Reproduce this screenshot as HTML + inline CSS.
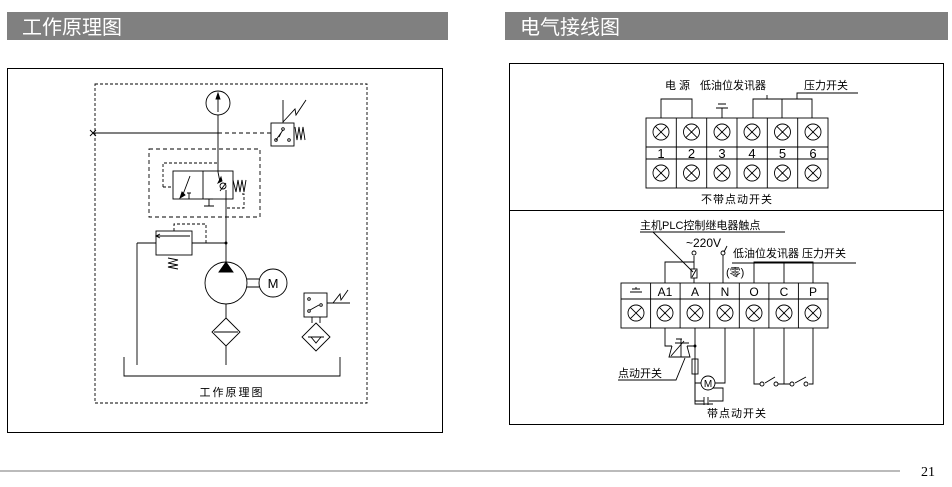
<!DOCTYPE html>
<html><head><meta charset="utf-8"><style>
body{margin:0;width:952px;height:487px;background:#fff;overflow:hidden;font-family:"Liberation Sans","Noto Sans CJK SC",sans-serif}
svg{position:absolute;left:0;top:0}
text{font-family:"Liberation Sans","Noto Sans CJK SC",sans-serif}
</style></head><body>
<svg width="952" height="487" viewBox="0 0 952 487" fill="none" stroke="#000" stroke-width="1">
<rect x="7" y="12" width="441" height="28" fill="#808080" stroke="none"/>
<rect x="505" y="12" width="443" height="28" fill="#808080" stroke="none"/>
<text x="22" y="34" font-size="20" fill="#fff" stroke="none">工作原理图</text>
<text x="520" y="34" font-size="20" fill="#fff" stroke="none">电气接线图</text>
<rect x="7.5" y="68.5" width="435" height="364"/>
<rect x="509.5" y="63.5" width="434" height="361"/>
<line x1="509" y1="210.5" x2="944" y2="210.5"/>
<line x1="0" y1="471" x2="900" y2="471" stroke="#bbb" stroke-width="2"/>
<text x="921" y="476" font-size="14" fill="#000" stroke="none" style="font-family:'Liberation Serif',serif">21</text>

<g stroke-width="0.9">
<rect x="95" y="84" width="272" height="319" stroke-dasharray="3,2"/>
<circle cx="218" cy="103" r="12"/>
<line x1="218" y1="96" x2="218" y2="112"/><path d="M216 99 L218 93 L220 99Z" fill="#000"/>
<line x1="218" y1="115" x2="218" y2="172"/>
<line x1="93" y1="133" x2="218" y2="133"/>
<path d="M90 130 L96 136 M96 130 L90 136"/>
<line x1="218" y1="133" x2="271" y2="133" stroke-dasharray="4,3"/>
<rect x="271" y="123" width="23" height="23"/>
<path d="M276 140 L283 130 M279 137 L281 133"/><circle cx="276" cy="140" r="1.3"/><circle cx="289" cy="140" r="1.3"/><circle cx="283" cy="129" r="1.3"/>
<path d="M295 127 L297 140 L299 127 L301 140 L303 127 L305 140"/>
<path d="M283 100 L283 123 M283 122 L295 109 L296 115 L306 100"/>
<rect x="149" y="149" width="111" height="68" stroke-dasharray="4,3"/>
<rect x="173" y="171" width="60" height="28"/>
<line x1="203" y1="171" x2="203" y2="199"/>
<path d="M163 187 L163 163 L218 163" stroke-dasharray="3,2"/>
<path d="M163 187 L173 187" stroke-dasharray="3,2"/>
<path d="M182 197 L190 176"/><path d="M180 198 L182 192 L185 195Z" fill="#000"/>
<path d="M187 193 L191 193 M189 193 L189 199"/>
<path d="M205 199 L213 199 M209 199 L209 206 M204 206 L214 206"/>
<path d="M218 172 L220 182"/><path d="M218 183 L222 181 L221 177Z" fill="#000"/>
<circle cx="223" cy="186" r="3"/><path d="M220 191 L226 183 M226 190 L226 199"/>
<path d="M233 180 L236 192 L238 180 L240 192 L242 180 L244 192 L246 180"/>
<path d="M242 194 L244 194 L244 208 L226 208" stroke-dasharray="3,2"/>
<line x1="226" y1="199" x2="226" y2="262"/>
<rect x="156" y="231" width="36" height="24"/>
<line x1="156" y1="236" x2="190" y2="236"/><path d="M160 234 L156 236 L160 238"/>
<path d="M174 231 L174 224 L206 224 L206 243" stroke-dasharray="3,2"/>
<line x1="137" y1="243" x2="156" y2="243"/><line x1="192" y1="243" x2="226" y2="243"/>
<circle cx="226" cy="243" r="1" fill="#000"/>
<path d="M168 258 L178 260 L168 263 L178 265 L168 267 L178 269"/>
<line x1="137" y1="243" x2="137" y2="365"/>
<circle cx="226" cy="283" r="21"/>
<path d="M219 272 L226 262 L233 272Z" fill="#000"/>
<path d="M247 279 L259 279 M247 287 L259 287"/>
<circle cx="273" cy="283" r="14"/>
<text x="273" y="288" font-size="13" fill="#000" stroke="none" text-anchor="middle">M</text>
<line x1="226" y1="304" x2="226" y2="318"/>
<path d="M226 318 L240 332 L226 346 L212 332Z M214 332 L238 332" />
<line x1="226" y1="346" x2="226" y2="365"/>
<rect x="304" y="293" width="23" height="24"/>
<circle cx="309" cy="299" r="1.3"/><circle cx="309" cy="311" r="1.3"/><circle cx="321" cy="305" r="1.3"/>
<path d="M310 310 L319 305"/>
<path d="M327 303 L350 303 M333 303 L340 294 L341 300 L348 290"/>
<path d="M312 317 L312 323 M320 317 L320 323"/>
<path d="M316 323 L330 337 L316 351 L302 337Z M308 337 L324 337 M311 337 L316 343 L321 337"/>
<path d="M124 357 L124 376 L340 376 L340 357"/>
</g>
<text x="232" y="396" font-size="11" fill="#000" stroke="none" text-anchor="middle" letter-spacing="2">工作原理图</text>

<g stroke-width="0.9">
<rect x="646" y="118" width="182" height="70"/>
<line x1="646" y1="147" x2="828" y2="147"/><line x1="646" y1="159" x2="828" y2="159"/>
<line x1="676.3" y1="118" x2="676.3" y2="188"/><line x1="706.7" y1="118" x2="706.7" y2="188"/><line x1="737" y1="118" x2="737" y2="188"/><line x1="767.3" y1="118" x2="767.3" y2="188"/><line x1="797.7" y1="118" x2="797.7" y2="188"/>
<circle cx="661" cy="132" r="8"/><circle cx="691.5" cy="132" r="8"/><circle cx="722" cy="132" r="8"/><circle cx="752" cy="132" r="8"/><circle cx="782.5" cy="132" r="8"/><circle cx="813" cy="132" r="8"/>
<path d="M655.3 126.3l11.4 11.4m0-11.4l-11.4 11.4 M685.8 126.3l11.4 11.4m0-11.4l-11.4 11.4 M716.3 126.3l11.4 11.4m0-11.4l-11.4 11.4 M746.3 126.3l11.4 11.4m0-11.4l-11.4 11.4 M776.8 126.3l11.4 11.4m0-11.4l-11.4 11.4 M807.3 126.3l11.4 11.4m0-11.4l-11.4 11.4"/>
<circle cx="661" cy="173" r="8"/><circle cx="691.5" cy="173" r="8"/><circle cx="722" cy="173" r="8"/><circle cx="752" cy="173" r="8"/><circle cx="782.5" cy="173" r="8"/><circle cx="813" cy="173" r="8"/>
<path d="M655.3 167.3l11.4 11.4m0-11.4l-11.4 11.4 M685.8 167.3l11.4 11.4m0-11.4l-11.4 11.4 M716.3 167.3l11.4 11.4m0-11.4l-11.4 11.4 M746.3 167.3l11.4 11.4m0-11.4l-11.4 11.4 M776.8 167.3l11.4 11.4m0-11.4l-11.4 11.4 M807.3 167.3l11.4 11.4m0-11.4l-11.4 11.4"/>
<path d="M661 118 L661 99 L692 99 L692 118"/>
<path d="M722 118 L722 108 M716 108 L728 108 M718 104 L726 104"/>
<path d="M753 118 L753 99 L782 99 L782 118 M782 99 L812 99 L812 118 M767 99 L767 95 M797 99 L797 93 L858 93"/>
</g>
<g fill="#000" stroke="none" font-size="11">
<text x="665" y="89">电 源</text>
<text x="700" y="89">低油位发讯器</text>
<text x="804" y="89">压力开关</text>
<g font-size="13"><text x="661" y="158" text-anchor="middle">1</text><text x="691.5" y="158" text-anchor="middle">2</text><text x="722" y="158" text-anchor="middle">3</text><text x="752" y="158" text-anchor="middle">4</text><text x="782.5" y="158" text-anchor="middle">5</text><text x="813" y="158" text-anchor="middle">6</text></g>
<text x="737" y="203" text-anchor="middle" letter-spacing="1">不带点动开关</text>
</g>

<g stroke-width="0.9">
<rect x="621" y="283" width="207" height="45"/>
<line x1="621" y1="299" x2="828" y2="299"/>
<line x1="650.6" y1="283" x2="650.6" y2="328"/><line x1="680.1" y1="283" x2="680.1" y2="328"/><line x1="709.7" y1="283" x2="709.7" y2="328"/><line x1="739.3" y1="283" x2="739.3" y2="328"/><line x1="768.9" y1="283" x2="768.9" y2="328"/><line x1="798.4" y1="283" x2="798.4" y2="328"/>
<circle cx="636" cy="313" r="8"/><circle cx="665" cy="313" r="8"/><circle cx="695" cy="313" r="8"/><circle cx="725" cy="313" r="8"/><circle cx="754" cy="313" r="8"/><circle cx="784" cy="313" r="8"/><circle cx="813" cy="313" r="8"/>
<path d="M630.3 307.3l11.4 11.4m0-11.4l-11.4 11.4 M659.3 307.3l11.4 11.4m0-11.4l-11.4 11.4 M689.3 307.3l11.4 11.4m0-11.4l-11.4 11.4 M719.3 307.3l11.4 11.4m0-11.4l-11.4 11.4 M748.3 307.3l11.4 11.4m0-11.4l-11.4 11.4 M778.3 307.3l11.4 11.4m0-11.4l-11.4 11.4 M807.3 307.3l11.4 11.4m0-11.4l-11.4 11.4"/>
<path d="M630 292 L642 292 M632 289 L640 289 M636 289 L636 287"/>
<path d="M640 232 L785 232 M653 232 L693 272"/>
<path d="M665 283 L665 262 L694 262 M694 256 L694 269 M694 278 L694 283"/>
<rect x="691" y="269" width="6" height="9"/><path d="M692 277 L696 270"/>
<circle cx="694" cy="253" r="2"/><circle cx="723" cy="253" r="2"/>
<path d="M723 255 L723 283 M724 252 L727 246"/>
<path d="M732 263 L856 263"/>
<path d="M754 283 L754 262 L784 262 L784 283 M784 262 L813 262 L813 283"/>
<path d="M665 328 L665 346 L672 346 M687 346 L695 346 M695 328 L695 404 L713 404"/>
<path d="M672 346 L669 357 L690 357 L687 346 M675 343 L689 343 M676 339 L682 339 M681 339 L681 357"/>
<path d="M671 356 L684 341"/>
<circle cx="695" cy="346" r="1" fill="#000"/>
<rect x="692" y="359" width="6" height="15"/>
<circle cx="708" cy="383" r="7"/>
<path d="M695 374 L695 383 L701 383 M715 383 L725 383 L725 328"/>
<path d="M695 383 L695 401 L704 401 M709 401 L723 401 L723 388 L713 388 M704 397 L704 405 M708 397 L708 405"/>
<path d="M685 358 L676 380 L618 380"/>
<path d="M754 328 L754 384 L760 384 M765 383 L775 377 M778 384 L790 384 M795 383 L806 377 M809 384 L813 384 L813 328 M784 328 L784 384"/>
<circle cx="762" cy="384" r="2"/><circle cx="776" cy="384" r="2"/><circle cx="792" cy="384" r="2"/><circle cx="806" cy="384" r="2"/>
</g>
<g fill="#000" stroke="none" font-size="11">
<text x="640" y="229">主机PLC控制继电器触点</text>
<text x="686" y="247" font-size="12">~220V</text>
<text x="733" y="257">低油位发讯器 压力开关</text>
<text x="726" y="276">(零)</text>
<g font-size="12"><text x="665" y="296" text-anchor="middle">A1</text><text x="695" y="296" text-anchor="middle">A</text><text x="725" y="296" text-anchor="middle">N</text><text x="754" y="296" text-anchor="middle">O</text><text x="784" y="296" text-anchor="middle">C</text><text x="813" y="296" text-anchor="middle">P</text></g>
<text x="618" y="377">点动开关</text>
<text x="708" y="387" font-size="10" text-anchor="middle">M</text>
<text x="737" y="417" text-anchor="middle" letter-spacing="1">带点动开关</text>
</g>
</svg>
</body></html>
